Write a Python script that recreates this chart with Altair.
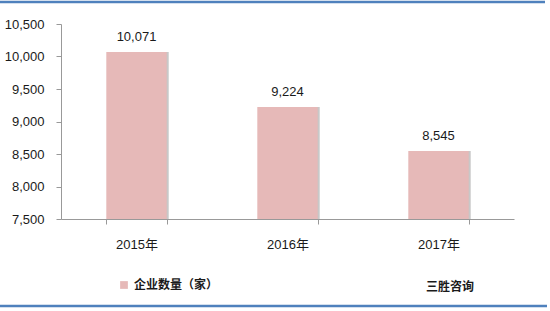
import altair as alt
import pandas as pd

years = ["2015年", "2016年", "2017年"]
counts = [10071, 9224, 8545]
series_name = "企业数量（家）"
source_note = "三胜咨询"
y_ticks = [7500, 8000, 8500, 9000, 9500, 10000, 10500]

df = pd.DataFrame({"year": years, "count": counts, "series": [series_name] * 3})

FONT = "Liberation Sans, Noto Sans CJK SC, sans-serif"
BAR = "#E6B9B8"
BLUE = "#4F81BD"

xenc = alt.X("year:N", sort=years,
             scale=alt.Scale(paddingInner=0.6, paddingOuter=0.3),
             axis=alt.Axis(title=None, labelAngle=0, tickBand="extent", tickSize=5,
                           labelPadding=14, domainColor="#999999", tickColor="#999999",
                           labelColor="#1a1a1a", labelFontSize=13, labelFont=FONT))
yenc = alt.Y("count:Q", scale=alt.Scale(domain=[7500, 10500], zero=False, nice=False),
             axis=alt.Axis(title=None, values=y_ticks, labelOverlap=False, tickCount=7,
                           format=",.0f", grid=False, tickSize=5, labelPadding=12,
                           domainColor="#999999", tickColor="#999999",
                           labelColor="#1a1a1a", labelFontSize=13, labelFont=FONT))

shadow = alt.Chart(df).mark_bar(color="#c8c8c8", xOffset=2, clip=True).encode(x=xenc, y=yenc)

bars = alt.Chart(df).mark_bar(clip=True).encode(
    x=xenc, y=yenc,
    color=alt.Color("series:N", scale=alt.Scale(range=[BAR]),
                    legend=alt.Legend(orient="none", legendX=57, legendY=255, title=None,
                                      symbolType="square", symbolSize=60,
                                      symbolStrokeWidth=0,
                                      labelFontWeight="bold", labelFontSize=12,
                                      labelFont=FONT, labelColor="#1a1a1a")))

labels = alt.Chart(df).mark_text(baseline="bottom", dy=-8, fontSize=13, font=FONT,
                                 color="#1a1a1a").encode(
    x=xenc, y=yenc, text=alt.Text("count:Q", format=",.0f"))

note = alt.Chart(pd.DataFrame({"t": [source_note]})).mark_text(
    fontWeight="bold", fontSize=12, font=FONT, color="#1a1a1a", align="center").encode(
    x=alt.value(389), y=alt.value(263), text="t:N")

top_line = alt.Chart(pd.DataFrame({"a": [0]})).mark_rule(color=BLUE, strokeWidth=2.5).encode(
    x=alt.value(-61), x2=alt.value(484), y=alt.value(-22))
bottom_line = alt.Chart(pd.DataFrame({"a": [0]})).mark_rule(color=BLUE, strokeWidth=2.5).encode(
    x=alt.value(-61), x2=alt.value(486), y=alt.value(282))

chart = alt.layer(shadow, bars, labels, note, top_line, bottom_line).properties(
    width=453, height=195,
    autosize=alt.AutoSizeParams(type="none"),
    padding={"left": 61, "top": 24, "right": 36, "bottom": 92},
).configure(background="white").configure_view(strokeWidth=0, stroke="transparent")

chart.save("out.html", embed_options={"renderer": "svg", "actions": False})
